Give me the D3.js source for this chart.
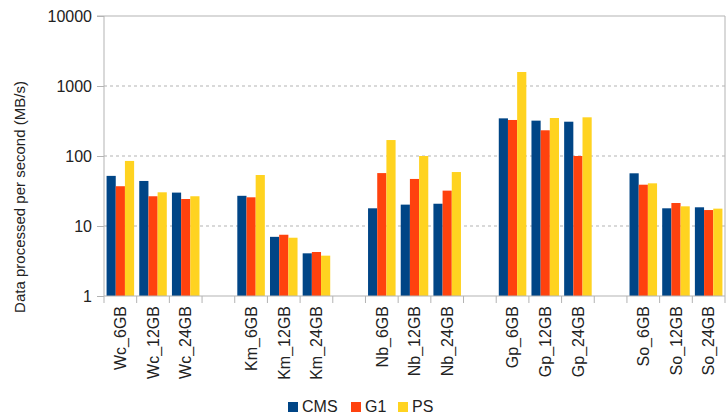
<!DOCTYPE html>
<html><head><meta charset="utf-8">
<script src="https://cdn.jsdelivr.net/npm/d3@7"></script>
<style>body{margin:0;background:#fff}svg{display:block;font-family:"Liberation Sans",Arial,sans-serif}</style>
</head><body><svg id="c" width="728" height="419"></svg>
<script>
const slots = ["Wc_6GB","Wc_12GB","Wc_24GB","",
  "Km_6GB","Km_12GB","Km_24GB"," ",
  "Nb_6GB","Nb_12GB","Nb_24GB","  ",
  "Gp_6GB","Gp_12GB","Gp_24GB","   ",
  "So_6GB","So_12GB","So_24GB"];
const categories = slots.filter(s => s.trim() !== "");
const seriesNames = ["CMS","G1","PS"];
const colors = ["#004586","#ff420e","#ffd320"];
const cms = [52,44,30, 27,7.0,4.07, 17.9,20.2,20.8, 345,320,309, 56.6,17.9,18.5];
const g1  = [37,26.6,24.3, 25.7,7.5,4.25, 57,47,32, 327,233,100, 38.9,21.3,16.9];
const ps  = [85,30.3,26.6, 53.5,6.8,3.77, 169,100,59, 1585,349,357, 40.7,19.1,17.7];
const yTicks = [1,10,100,1000,10000];
const yTitle = "Data processed per second (MB/s)";

const svg = d3.select("#c");
const L = 104, R = 725, T = 16, B = 296;
const x = d3.scaleBand().domain(slots).range([L, R]);
const xi = d3.scaleBand().domain(seriesNames).range([0, x.bandwidth()]).paddingOuter(0.28).paddingInner(0);
const y = d3.scaleLog().domain([1, 10000]).range([B, T]);
const data = [cms, g1, ps];

// grid
svg.append("g").selectAll("line").data([10,100,1000]).join("line")
  .attr("x1", L).attr("x2", R).attr("y1", d => y(d)).attr("y2", d => y(d))
  .attr("stroke", "#b3b3b3").attr("stroke-dasharray", "3,3");
// frame top/right
svg.append("line").attr("x1", L).attr("x2", R).attr("y1", y(10000)).attr("y2", y(10000)).attr("stroke", "#b3b3b3");
svg.append("line").attr("x1", R).attr("x2", R).attr("y1", T).attr("y2", B).attr("stroke", "#b3b3b3");

// bars
categories.forEach((c, i) => {
  seriesNames.forEach((s, j) => {
    const v = data[j][i];
    svg.append("rect")
      .attr("x", x(c) + xi(s)).attr("width", xi.bandwidth())
      .attr("y", y(v)).attr("height", y(1) - y(v))
      .attr("fill", colors[j]);
  });
});

// y axis
const ya = d3.axisLeft(y).tickValues(yTicks).tickFormat(d3.format("d")).tickSize(7).tickPadding(5);
const yg = svg.append("g").attr("transform", `translate(${L},0)`).call(ya);
yg.select(".domain").attr("stroke", "#b3b3b3").attr("d", `M-7,${T}H0V${B}`);
yg.selectAll(".tick line").attr("stroke", "#b3b3b3");
yg.selectAll("text").attr("font-size", 16).attr("fill", "#222").attr("font-family", "Liberation Sans, Arial, sans-serif");

// x axis
const xa = d3.axisBottom(x).tickSize(0).tickFormat(d => d.trim());
const xg = svg.append("g").attr("transform", `translate(0,${B})`).call(xa);
xg.select(".domain").attr("stroke", "#b3b3b3").attr("d", `M${L},0H${R}`);
xg.selectAll(".tick line").remove();
xg.selectAll("text").attr("font-size", 16).attr("fill", "#222")
  .attr("font-family", "Liberation Sans, Arial, sans-serif")
  .attr("transform", "rotate(-90)").attr("text-anchor", "end")
  .attr("x", -10).attr("y", 0).attr("dy", "0.36em").attr("dx", 0);
// boundary ticks
const bounds = slots.map(s => x(s)).concat([R]);
svg.append("g").selectAll("line").data(bounds).join("line")
  .attr("x1", d => d).attr("x2", d => d).attr("y1", B).attr("y2", B + 7)
  .attr("stroke", "#b3b3b3");

// y title
svg.append("text").attr("transform", "translate(25,197) rotate(-90)")
  .attr("text-anchor", "middle").attr("font-size", 15).attr("fill", "#222").text(yTitle);

// legend
const legX = [288, 351, 398];
const lg = svg.append("g");
seriesNames.forEach((s, j) => {
  lg.append("rect").attr("x", legX[j]).attr("y", 402).attr("width", 10).attr("height", 10).attr("fill", colors[j]);
  lg.append("text").attr("x", legX[j] + 14).attr("y", 412).attr("font-size", 16).attr("fill", "#222").text(s);
});
</script></body></html>
